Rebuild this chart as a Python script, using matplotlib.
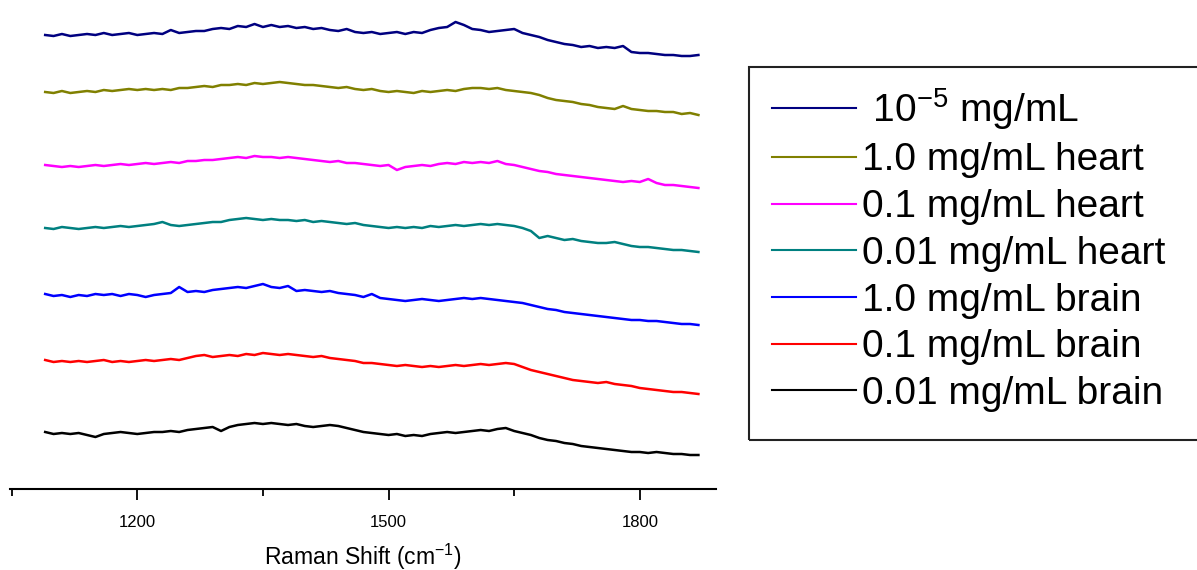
import matplotlib
matplotlib.use("Agg")
import matplotlib.pyplot as plt
from matplotlib.lines import Line2D
from matplotlib.patches import Rectangle

plt.rcParams['font.family'] = ['Liberation Sans', 'DejaVu Sans']
plt.rcParams['mathtext.fontset'] = 'custom'
plt.rcParams['mathtext.rm'] = 'Liberation Sans'
plt.rcParams['mathtext.it'] = 'Liberation Sans:italic'
plt.rcParams['mathtext.bf'] = 'Liberation Sans:bold'

# Raman shift grid (cm^-1)
raman_shift = list(range(1090, 1871, 10))

# Offset (stacked) intensities, arbitrary units
navy_1e5 = [465,464,466,464,465,466,465,467,465,466,
            467,465,466,467,466,470,467,468,469,469,
            471,472,471,474,473,476,473,475,473,474,
            472,473,471,472,470,469,471,468,467,468,
            466,467,468,466,468,467,470,472,473,478,
            475,471,470,468,469,470,471,467,465,463,
            460,458,456,455,453,454,452,453,452,454,
            448,447,447,446,445,445,444,444,445]
heart_1_0 = [408,407,409,407,408,409,408,410,409,410,
             411,410,411,410,411,410,412,412,413,414,
             413,415,415,416,415,417,416,417,418,417,
             416,415,415,414,413,412,413,411,410,411,
             409,408,409,408,407,409,408,409,410,409,
             411,412,412,411,412,410,409,408,407,405,
             402,400,399,398,396,395,393,392,391,394,
             391,390,389,389,388,388,386,387,385]
heart_0_1 = [335,334,333,334,333,334,335,334,335,336,
             335,336,337,336,337,338,337,339,339,340,
             340,341,342,343,342,344,343,343,342,343,
             342,341,340,339,338,339,337,337,336,335,
             334,335,330,333,334,335,334,336,337,336,
             338,337,338,337,339,336,335,333,331,329,
             328,326,325,324,323,322,321,320,319,318,
             319,318,321,317,315,315,314,313,312]
heart_0_01 = [272,271,273,272,271,272,273,272,273,274,
              273,274,275,276,278,275,274,275,276,277,
              278,278,280,281,282,281,280,281,280,280,
              279,280,278,279,278,277,276,277,275,274,
              273,272,273,272,273,272,274,273,274,275,
              274,275,276,275,276,275,274,272,269,262,
              264,262,260,261,259,258,257,257,258,256,
              254,253,253,252,251,250,250,249,248]
brain_1_0 = [206,204,205,203,205,204,206,205,206,204,
             206,205,203,205,206,207,213,208,209,208,
             210,211,212,213,212,214,216,213,212,214,
             209,210,209,208,209,207,206,205,203,206,
             202,201,200,199,200,201,200,199,200,201,
             202,201,202,201,200,199,198,197,195,193,
             191,190,188,187,186,185,184,183,182,181,
             180,180,179,179,178,177,176,176,175]
brain_0_1 = [140,138,139,138,139,138,139,140,138,139,
             138,139,140,139,140,141,140,142,144,145,
             143,144,145,144,146,145,147,146,145,146,
             145,144,143,144,142,141,140,139,137,137,
             136,135,134,135,134,133,134,133,134,135,
             134,135,136,135,136,137,136,133,130,128,
             126,124,122,120,119,118,117,118,116,115,
             114,112,111,110,109,108,108,107,106]
brain_0_01 = [68,66,67,66,67,65,63,66,67,68,
              67,66,67,68,68,69,68,70,71,72,
              73,69,73,75,76,77,76,77,76,75,
              76,74,73,74,75,74,72,70,68,67,
              66,65,66,64,65,64,66,67,68,67,
              68,69,70,69,71,72,69,67,65,62,
              60,59,57,56,54,53,52,51,50,49,
              48,48,47,48,47,46,46,45,45]

series_labels = [r" $\mathregular{10^{-5}}$ mg/mL", "1.0 mg/mL heart", "0.1 mg/mL heart",
                 "0.01 mg/mL heart", "1.0 mg/mL brain", "0.1 mg/mL brain", "0.01 mg/mL brain"]
series_values = [navy_1e5, heart_1_0, heart_0_1, heart_0_01, brain_1_0, brain_0_1, brain_0_01]
series_colors = ["#000080", "#808000", "#ff00ff", "#008080", "#0000ff", "#ff0000", "#000000"]

W, H = 1197, 570
fig = plt.figure(figsize=(W/100, H/100), dpi=100)
ax = fig.add_axes([10/W, 81/H, 706/W, 489/H])

for vals, col, lab in zip(series_values, series_colors, series_labels):
    ax.plot(raman_shift, vals, color=col, lw=1.8, label=lab)

ax.set_xlim(1048, 1891)
ax.set_ylim(11, 500)
for s in ("left", "right", "top"):
    ax.spines[s].set_visible(False)
ax.spines["bottom"].set_linewidth(1.5)
ax.set_yticks([])
ax.set_xticks([1200, 1500, 1800])
ax.set_xticks([1050, 1350, 1650], minor=True)
ax.tick_params(axis="x", which="major", direction="out", length=8, width=1.3, labelsize=12, pad=11)
ax.tick_params(axis="x", which="minor", direction="out", length=5, width=1.3)
ax.set_xlabel(r"Raman Shift (cm$^{\mathregular{-1}}$)", fontsize=16.5, labelpad=8)

# legend frame (extends beyond right edge of the figure)
fig.patches.append(Rectangle((749/W, (H-440)/H), 500/W, 373/H, transform=fig.transFigure,
                             fill=False, edgecolor="#222222", lw=1.5))
leg_handles = [Line2D([0], [0], color=c, lw=1.5) for c in series_colors]
fig.legend(leg_handles, series_labels, loc="upper left", bbox_to_anchor=(772/W, (H-86)/H),
           frameon=False, fontsize=28, handlelength=2.16, handletextpad=0.15,
           labelspacing=0.275, borderpad=0, borderaxespad=0)

fig.savefig("out.png", dpi=100)
